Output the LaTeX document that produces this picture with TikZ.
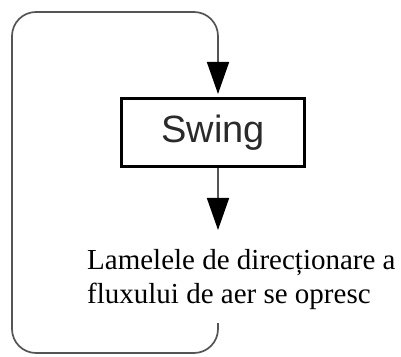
\documentclass[tikz,border=0pt]{standalone}
\usepackage{fontspec}
\setmainfont{Liberation Serif}
\newfontfamily\swingfont{Liberation Sans}
\usetikzlibrary{arrows.meta}
\definecolor{loopgray}{HTML}{555555}
\definecolor{textgray}{HTML}{2A2A2A}
\begin{document}
\begin{tikzpicture}[x=1pt,y=1pt,
  flowline/.style={draw=loopgray,line width=1.7pt},
  bigtip/.style={-{Triangle[width=22pt,length=32pt,color=black]}},
  statebox/.style={draw=black,line width=3pt,minimum width=183pt,minimum height=68pt,inner sep=0pt,
    font=\swingfont\fontsize{38}{40}\selectfont,text=textgray},
  caption/.style={anchor=base west,inner sep=0pt,font=\fontsize{29}{34}\selectfont}]
\useasboundingbox (0,0) rectangle (401,356);
\node[statebox] (swing) at (213,223.5) {Swing};
\coordinate (loopstart) at (218,33);
\coordinate (stop) at (218,126);
\node[caption] (line1) at (87,87) {Lamelele de direcționare a};
\node[caption] (line2) at (87,53) {fluxului de aer se opresc};
\draw[flowline,bigtip,rounded corners=24pt] (loopstart) -- (218,3) -- (12,3) -- (12,344) -- (218,344) -- ([yshift=3pt]swing.north -| loopstart);
\draw[flowline,bigtip] (swing.south -| stop) -- (stop);
\end{tikzpicture}
\end{document}
